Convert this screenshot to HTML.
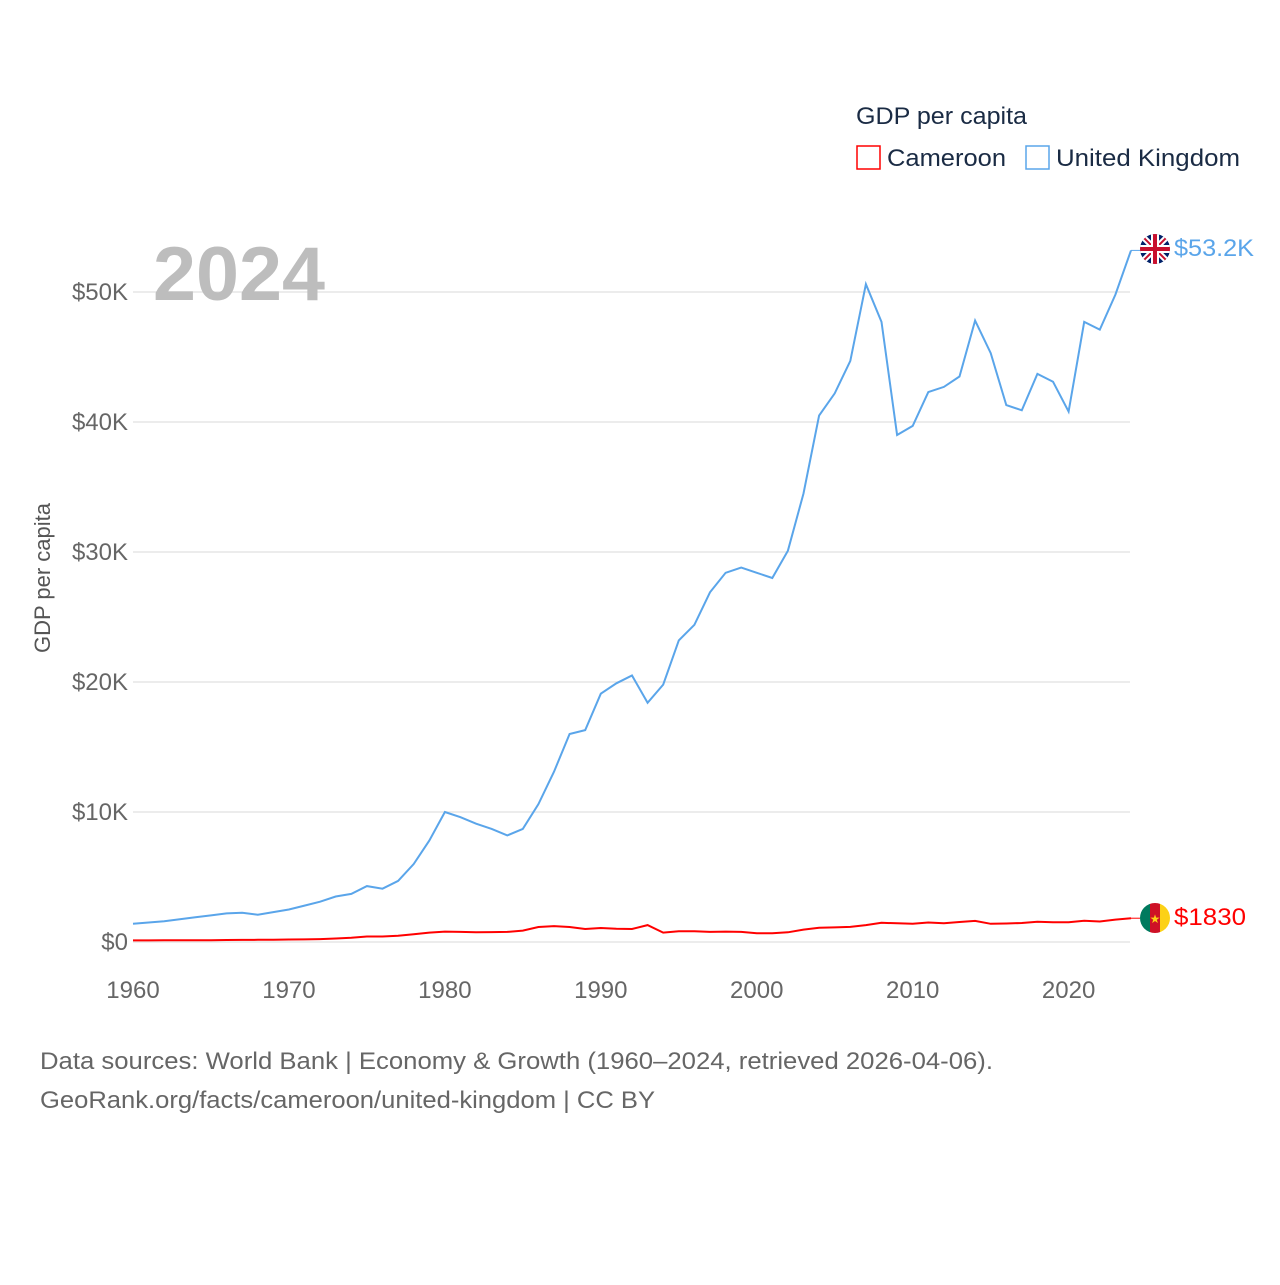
<!DOCTYPE html>
<html><head><meta charset="utf-8"><style>
body{margin:0;background:#fff;font-family:"Liberation Sans",sans-serif}
svg text{font-family:"Liberation Sans",sans-serif}
</style></head><body>
<svg id="chart" width="1280" height="1280" xmlns="http://www.w3.org/2000/svg">
<rect width="1280" height="1280" fill="#fff"/>
<g id="grid"></g>
<text x="153" y="300" font-size="76" font-weight="bold" fill="#bdbdbd" textLength="172" lengthAdjust="spacingAndGlyphs">2024</text>
<text transform="translate(50,578) rotate(-90)" font-size="22" fill="#555" text-anchor="middle">GDP per capita</text>
<g id="series"></g>
<g>
<text x="856" y="124" font-size="24" fill="#1a2b44" textLength="171" lengthAdjust="spacingAndGlyphs">GDP per capita</text>
<g><rect x="857" y="146" width="23" height="23" fill="none" stroke="#f00" stroke-width="1.5"/><text x="887" y="166" font-size="24" fill="#1a2b44" textLength="119" lengthAdjust="spacingAndGlyphs">Cameroon</text></g>
<g><rect x="1026" y="146" width="23" height="23" fill="none" stroke="#5aa5ea" stroke-width="1.5"/><text x="1056" y="166" font-size="24" fill="#1a2b44" textLength="184" lengthAdjust="spacingAndGlyphs">United Kingdom</text></g>
</g>
<g>
<clipPath id="c1"><circle cx="1155" cy="249" r="15"/></clipPath>
<g clip-path="url(#c1)"><rect x="1140" y="234" width="30" height="30" fill="#012169"/>
<path d="M1140 234L1170 264M1170 234L1140 264" stroke="#fff" stroke-width="6"/>
<path d="M1140 234L1170 264M1170 234L1140 264" stroke="#c8102e" stroke-width="2"/>
<path d="M1155 234V264M1140 249H1170" stroke="#fff" stroke-width="8"/>
<path d="M1155 234V264M1140 249H1170" stroke="#c8102e" stroke-width="4"/></g></g>
<g>
<clipPath id="c2"><circle cx="1155" cy="918" r="15"/></clipPath>
<g clip-path="url(#c2)"><rect x="1140" y="903" width="10" height="30" fill="#007a5e"/><rect x="1150" y="903" width="10" height="30" fill="#ce1126"/><rect x="1160" y="903" width="10" height="30" fill="#fcd116"/>
<text x="1155" y="923" font-size="12" fill="#fcd116" text-anchor="middle">★</text></g></g>
<text x="1174" y="256" font-size="24" fill="#5aa5ea" textLength="80" lengthAdjust="spacingAndGlyphs">$53.2K</text>
<text x="1174" y="925" font-size="24" fill="#f00" textLength="72" lengthAdjust="spacingAndGlyphs">$1830</text>
<text x="40" y="1069" font-size="24" fill="#666" textLength="953" lengthAdjust="spacingAndGlyphs">Data sources: World Bank | Economy &amp; Growth (1960–2024, retrieved 2026-04-06).</text>
<text x="40" y="1108" font-size="24" fill="#666" textLength="615" lengthAdjust="spacingAndGlyphs">GeoRank.org/facts/cameroon/united-kingdom | CC BY</text>
</svg>
<script>
const years=[];for(let y=1960;y<=2024;y++)years.push(y);
const ukValues=[1.4,1.5,1.6,1.75,1.9,2.05,2.2,2.25,2.1,2.3,2.5,2.8,3.1,3.5,3.7,4.3,4.1,4.7,6.0,7.8,10.0,9.6,9.1,8.7,8.2,8.7,10.6,13.1,16.0,16.3,19.1,19.9,20.5,18.4,19.8,23.2,24.4,26.9,28.4,28.8,28.4,28.0,30.1,34.5,40.5,42.2,44.7,50.6,47.7,39.0,39.7,42.3,42.7,43.5,47.8,45.3,41.3,40.9,43.7,43.1,40.8,47.7,47.1,49.8,53.2];
const cmValues=[0.12,0.12,0.13,0.13,0.14,0.14,0.15,0.16,0.17,0.18,0.19,0.2,0.22,0.27,0.32,0.42,0.42,0.48,0.6,0.72,0.8,0.78,0.75,0.76,0.78,0.88,1.15,1.22,1.15,1.0,1.08,1.02,1.0,1.3,0.72,0.82,0.82,0.78,0.8,0.78,0.68,0.68,0.75,0.95,1.1,1.12,1.16,1.3,1.48,1.44,1.4,1.5,1.44,1.54,1.62,1.4,1.42,1.46,1.56,1.52,1.52,1.64,1.58,1.72,1.83];
const yTicks=[0,10,20,30,40,50];
const yTickLabels=["$0","$10K","$20K","$30K","$40K","$50K"];
const xTicks=[1960,1970,1980,1990,2000,2010,2020];
const NS="http://www.w3.org/2000/svg";
const xs=y=>133+(y-1960)*(1131-133)/64;
const ys=v=>942-v*13;
const grid=document.getElementById('grid');
yTicks.forEach((t,i)=>{
 const l=document.createElementNS(NS,'line');
 l.setAttribute('x1',133);l.setAttribute('x2',1130);l.setAttribute('y1',ys(t));l.setAttribute('y2',ys(t));
 l.setAttribute('stroke','#e6e6e6');l.setAttribute('stroke-width','1.5');
 
 
 grid.appendChild(l);
 const tx=document.createElementNS(NS,'text');
 tx.setAttribute('x',128);tx.setAttribute('y',ys(t)+8);tx.setAttribute('text-anchor','end');
 tx.setAttribute('font-size','24');tx.setAttribute('fill','#666');tx.textContent=yTickLabels[i];
 
 
 grid.appendChild(tx);
});
xTicks.forEach(t=>{
 const tx=document.createElementNS(NS,'text');
 tx.setAttribute('x',xs(t));tx.setAttribute('y',998);tx.setAttribute('text-anchor','middle');
 tx.setAttribute('font-size','24');tx.setAttribute('fill','#666');tx.textContent=t;
 
 
 grid.appendChild(tx);
});
const ser=document.getElementById('series');
function line(vals,color,name){
 const p=document.createElementNS(NS,'path');
 p.setAttribute('d',vals.map((v,i)=>(i?'L':'M')+xs(years[i]).toFixed(1)+' '+ys(v).toFixed(1)).join(''));
 p.setAttribute('fill','none');p.setAttribute('stroke',color);p.setAttribute('stroke-width','2');
 
 
 ser.appendChild(p);
 const last=vals[vals.length-1];
 const c=document.createElementNS(NS,'line');
 c.setAttribute('x1',xs(2024));c.setAttribute('x2',1140);c.setAttribute('y1',ys(last));c.setAttribute('y2',ys(last));
 c.setAttribute('stroke',color);c.setAttribute('stroke-width','1');
 
 
 ser.appendChild(c);
}
line(ukValues,'#5aa5ea','uk-line');
line(cmValues,'#ff0000','cameroon-line');
</script>
</body></html>
